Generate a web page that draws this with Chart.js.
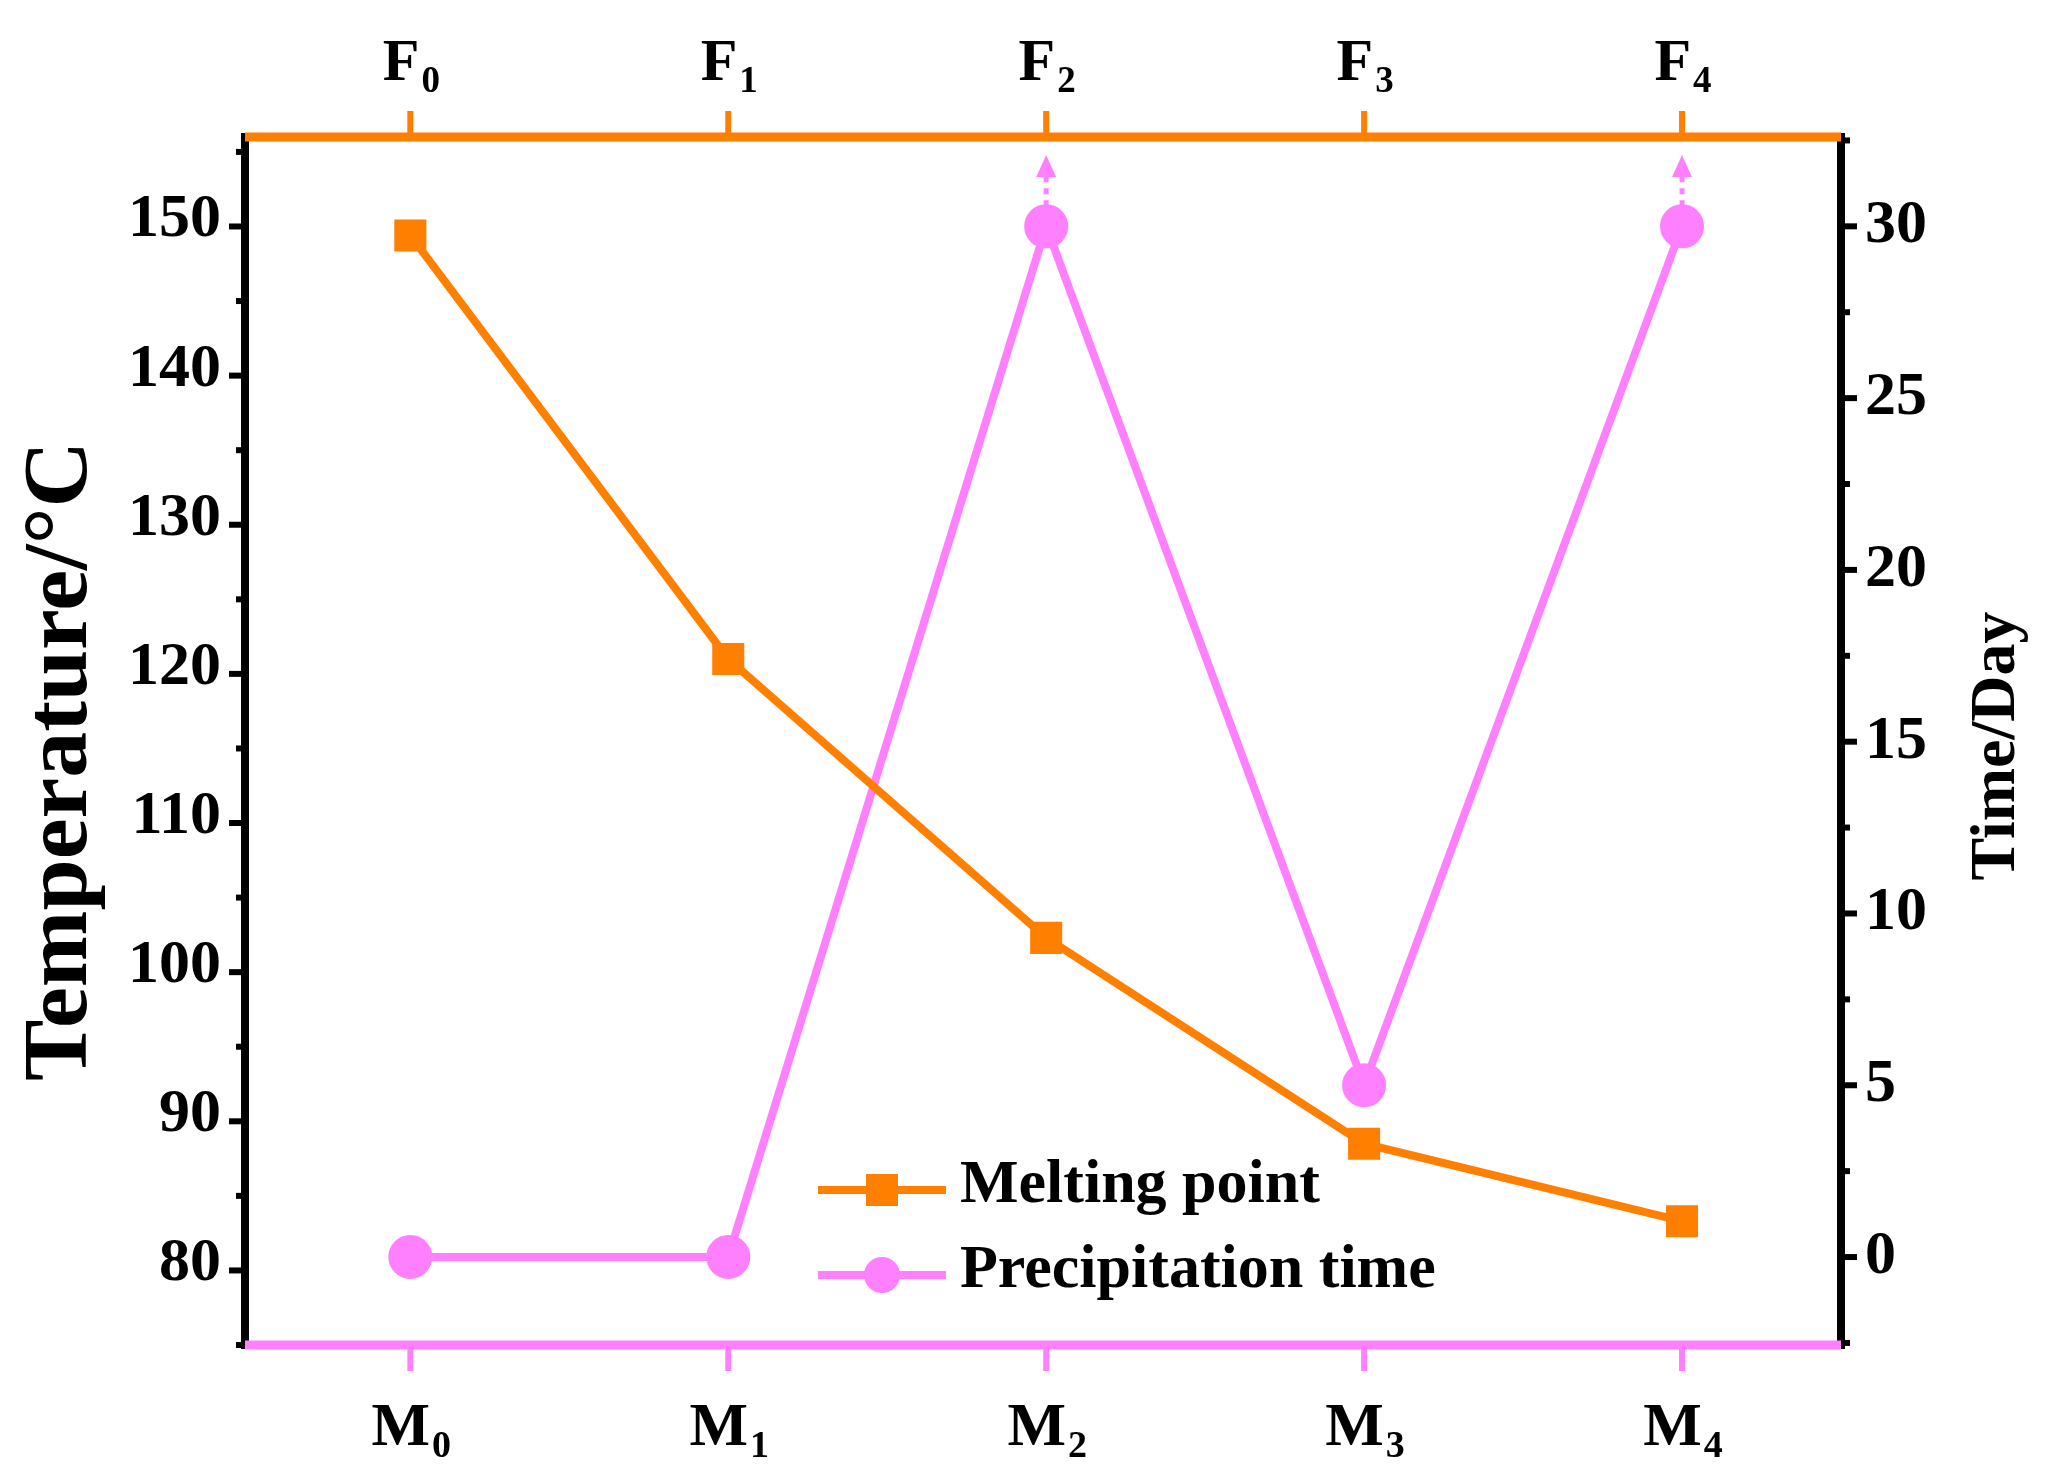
<!DOCTYPE html>
<html>
<head>
<meta charset="utf-8">
<script src="https://cdn.jsdelivr.net/npm/chart.js@4"></script>
<style>
  html, body { margin: 0; padding: 0; background: #fff; }
  #wrap { width: 2058px; height: 1483px; }
</style>
</head>
<body>
<div id="wrap"><canvas id="myChart"></canvas></div>
<script>
'use strict';

// data
var samples = ['0', '1', '2', '3', '4'];
var meltingPoint = [149.4, 121.0, 102.3, 88.5, 83.3];
var precipTime = [0, 0, 30, 5, 30];
var leftTicks = [80, 90, 100, 110, 120, 130, 140, 150];
var rightTicks = [0, 5, 10, 15, 20, 25, 30];
var arrowPoints = [2, 4]; // points beyond the 30 day limit

var ORANGE = '#FF7F00';
var PINK = '#FF80FF';
var FONT = '"Liberation Serif", "DejaVu Serif", serif';

function subLabel(ctx, base, sub, x, y, size) {
  ctx.font = 'bold ' + size + 'px ' + FONT;
  var w1 = ctx.measureText(base).width;
  ctx.font = 'bold ' + Math.round(size * 0.62) + 'px ' + FONT;
  var w2 = ctx.measureText(sub).width;
  var x0 = x - (w1 + w2) / 2;
  ctx.textAlign = 'left';
  ctx.textBaseline = 'alphabetic';
  ctx.font = 'bold ' + size + 'px ' + FONT;
  ctx.fillText(base, x0, y);
  ctx.font = 'bold ' + Math.round(size * 0.62) + 'px ' + FONT;
  ctx.fillText(sub, x0 + w1 + 2, y + size * 0.2);
}

var axesPlugin = {
  id: 'axesPlugin',
  afterDatasetsDraw: function (chart) {
    var ctx = chart.ctx;
    var a = chart.chartArea;
    var xs = chart.scales.x, yL = chart.scales.y, yR = chart.scales.y2;
    ctx.save();

    // dotted arrows above capped points
    arrowPoints.forEach(function (i) {
      var px = xs.getPixelForValue(i);
      var py = yR.getPixelForValue(precipTime[i]);
      ctx.strokeStyle = PINK; ctx.fillStyle = PINK;
      ctx.lineWidth = 5;
      ctx.setLineDash([6, 6]);
      ctx.beginPath(); ctx.moveTo(px, py - 20); ctx.lineTo(px, a.top + 40); ctx.stroke();
      ctx.setLineDash([]);
      ctx.beginPath();
      ctx.moveTo(px, a.top + 18); ctx.lineTo(px - 10, a.top + 40); ctx.lineTo(px + 10, a.top + 40);
      ctx.closePath(); ctx.fill();
    });

    // left / right axis lines
    ctx.strokeStyle = '#000'; ctx.lineWidth = 8;
    ctx.beginPath(); ctx.moveTo(a.left, a.top - 4); ctx.lineTo(a.left, a.bottom + 4); ctx.stroke();
    ctx.beginPath(); ctx.moveTo(a.right, a.top - 4); ctx.lineTo(a.right, a.bottom + 4); ctx.stroke();

    // left ticks
    ctx.lineWidth = 6;
    ctx.fillStyle = '#000';
    ctx.font = 'bold 62px ' + FONT;
    ctx.textAlign = 'right'; ctx.textBaseline = 'middle';
    for (var v = 75; v <= 155; v += 5) {
      var y = yL.getPixelForValue(v);
      var major = v % 10 === 0;
      ctx.beginPath(); ctx.moveTo(a.left, y); ctx.lineTo(a.left - (major ? 16 : 9), y); ctx.stroke();
    }
    leftTicks.forEach(function (t) {
      ctx.fillText(String(t), a.left - 24, yL.getPixelForValue(t) - 6);
    });

    // right ticks
    ctx.textAlign = 'left';
    for (var r = -2.5; r <= 32.5; r += 2.5) {
      var yr = yR.getPixelForValue(r);
      var maj = r % 5 === 0;
      ctx.beginPath(); ctx.moveTo(a.right, yr); ctx.lineTo(a.right + (maj ? 16 : 9), yr); ctx.stroke();
    }
    rightTicks.forEach(function (t) {
      ctx.fillText(String(t), a.right + 24, yR.getPixelForValue(t));
    });

    // top (orange) and bottom (pink) axes
    ctx.lineWidth = 9;
    ctx.strokeStyle = ORANGE;
    ctx.beginPath(); ctx.moveTo(a.left, a.top); ctx.lineTo(a.right, a.top); ctx.stroke();
    ctx.strokeStyle = PINK;
    ctx.beginPath(); ctx.moveTo(a.left, a.bottom); ctx.lineTo(a.right, a.bottom); ctx.stroke();
    ctx.lineWidth = 6;
    samples.forEach(function (s, i) {
      var px = xs.getPixelForValue(i);
      ctx.strokeStyle = ORANGE;
      ctx.beginPath(); ctx.moveTo(px, a.top); ctx.lineTo(px, a.top - 26); ctx.stroke();
      ctx.strokeStyle = PINK;
      ctx.beginPath(); ctx.moveTo(px, a.bottom); ctx.lineTo(px, a.bottom + 26); ctx.stroke();
      ctx.fillStyle = '#000';
      subLabel(ctx, 'F', s, px, 80, 60);
      subLabel(ctx, 'M', s, px, 1445, 62);
    });

    // axis titles
    ctx.fillStyle = '#000';
    ctx.textAlign = 'center'; ctx.textBaseline = 'middle';
    ctx.save();
    ctx.translate(62, (a.top + a.bottom) / 2 + 20);
    ctx.rotate(-Math.PI / 2);
    ctx.font = 'bold 92px ' + FONT;
    ctx.fillText('Temperature/\u00B0C', 0, 0);
    ctx.restore();
    ctx.save();
    ctx.translate(1997, 746);
    ctx.rotate(-Math.PI / 2);
    ctx.font = 'bold 64px ' + FONT;
    ctx.fillText('Time/Day', 0, 0);
    ctx.restore();

    // legend
    var lx = 818, items = [
      { y: 1190, color: ORANGE, label: 'Melting point', square: true },
      { y: 1275, color: PINK, label: 'Precipitation time', square: false }
    ];
    items.forEach(function (it) {
      ctx.strokeStyle = it.color; ctx.fillStyle = it.color; ctx.lineWidth = 8;
      ctx.beginPath(); ctx.moveTo(lx, it.y); ctx.lineTo(lx + 128, it.y); ctx.stroke();
      if (it.square) ctx.fillRect(lx + 64 - 16, it.y - 16, 32, 32);
      else { ctx.beginPath(); ctx.arc(lx + 64, it.y, 18, 0, Math.PI * 2); ctx.fill(); }
      ctx.fillStyle = '#000';
      ctx.font = 'bold 62px ' + FONT;
      ctx.textAlign = 'left'; ctx.textBaseline = 'middle';
      ctx.fillText(it.label, lx + 142, it.y - 4);
    });

    ctx.restore();
  }
};

var ctx = document.getElementById('myChart');

var chart = new Chart(ctx, {
  type: 'line',
  data: {
    datasets: [
      {
        label: 'Melting point',
        data: meltingPoint.map(function (v, i) { return { x: i, y: v }; }),
        yAxisID: 'y',
        borderColor: ORANGE,
        backgroundColor: ORANGE,
        borderWidth: 8,
        pointStyle: 'rect',
        pointRadius: 17,
        pointHoverRadius: 17
      },
      {
        label: 'Precipitation time',
        data: precipTime.map(function (v, i) { return { x: i, y: v }; }),
        yAxisID: 'y2',
        borderColor: PINK,
        backgroundColor: PINK,
        borderWidth: 8,
        pointStyle: 'circle',
        pointRadius: 18,
        pointHoverRadius: 18
      }
    ]
  },
  options: {
    responsive: true,
    maintainAspectRatio: false,
    animation: false,
    layout: { padding: { left: 245, right: 217, top: 137, bottom: 138 } },
    plugins: { legend: { display: false }, tooltip: { enabled: false } },
    scales: {
      x: { type: 'linear', min: -0.52, max: 4.5, display: false },
      y: { min: 75, max: 156, display: false },
      y2: { position: 'right', min: -2.56, max: 32.6, display: false }
    }
  },
  plugins: [axesPlugin]
});
</script>
</body>
</html>
